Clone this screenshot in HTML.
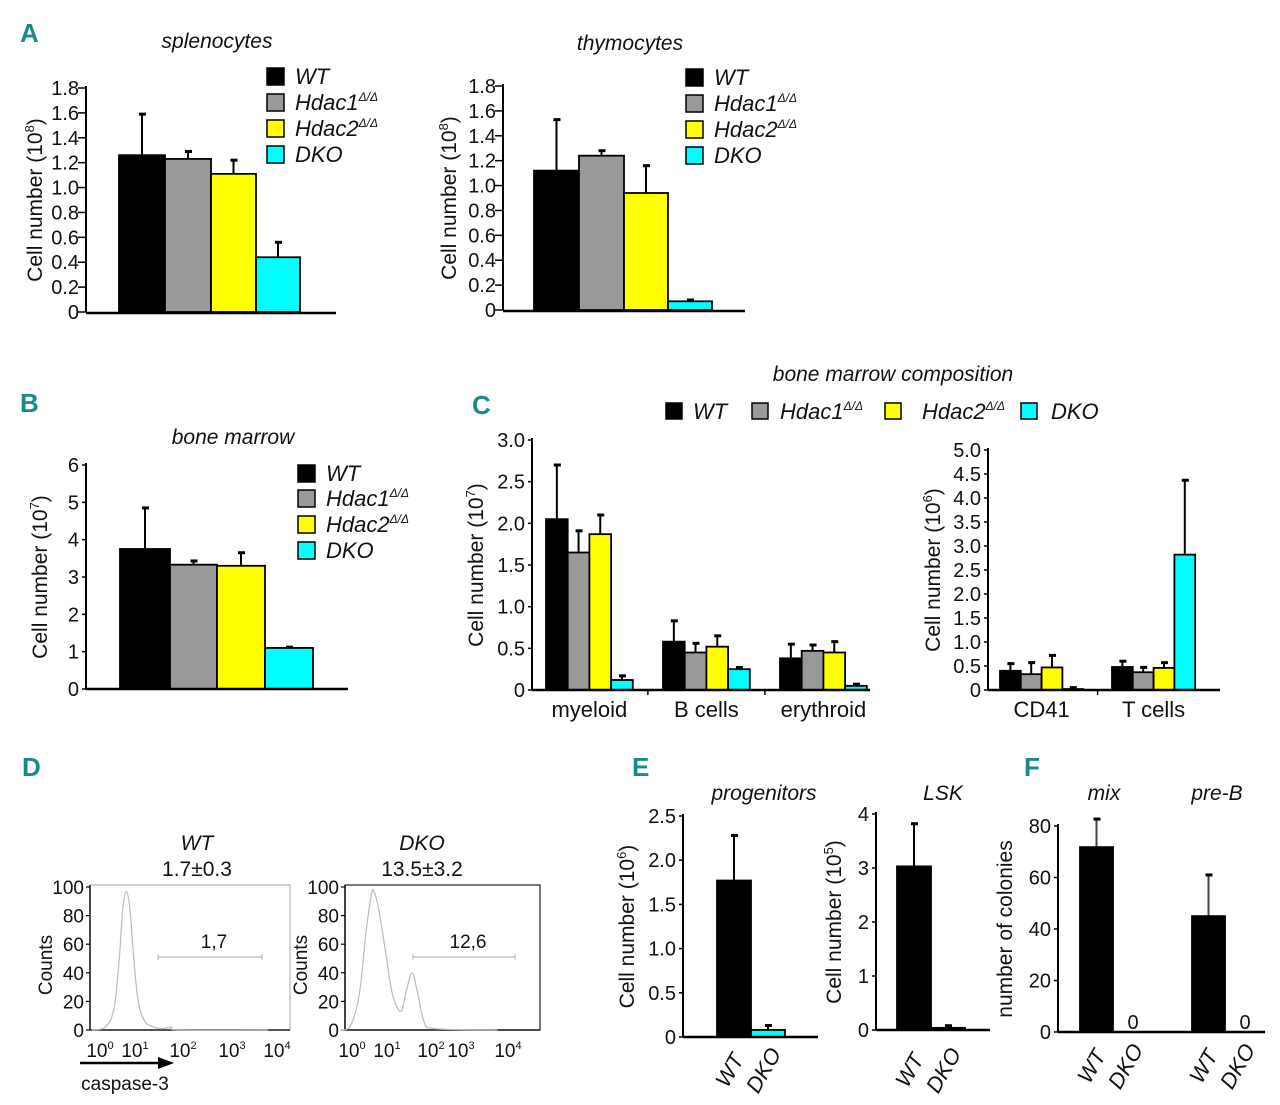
<!DOCTYPE html>
<html><head><meta charset="utf-8"><style>
html,body{margin:0;padding:0;background:#fff;}
svg{display:block;font-family:"Liberation Sans Narrow","Liberation Sans",sans-serif;}
</style></head><body>
<svg id="fig" width="1280" height="1105" viewBox="0 0 1280 1105" xmlns="http://www.w3.org/2000/svg"></svg>
<script>
// ---------- data ----------
const groups = ["WT","Hdac1","Hdac2","DKO"];
const colors = ["#000000","#999999","#ffff00","#00ffff"];
// Panel A
const spleenVals = [1.26,1.23,1.11,0.44];
const spleenErr  = [1.59,1.29,1.22,0.56];
const thymVals   = [1.12,1.24,0.94,0.07];
const thymErr    = [1.53,1.28,1.16,0.08];
const ticksA = [0,0.2,0.4,0.6,0.8,1.0,1.2,1.4,1.6,1.8];
// Panel B
const bmVals = [3.75,3.33,3.3,1.1];
const bmErr  = [4.85,3.43,3.65,1.12];
const ticksB = [0,1,2,3,4,5,6];
// Panel C left
const cLeftCats = ["myeloid","B cells","erythroid"];
const cLeftVals = [[2.05,1.65,1.87,0.12],[0.58,0.45,0.52,0.25],[0.38,0.47,0.45,0.05]];
const cLeftErr  = [[2.7,1.91,2.1,0.17],[0.83,0.56,0.65,0.27],[0.55,0.54,0.58,0.07]];
const ticksCL = [0,0.5,1.0,1.5,2.0,2.5,3.0];
// Panel C right
const cRightCats = ["CD41","T cells"];
const cRightVals = [[0.4,0.33,0.47,0.02],[0.48,0.37,0.46,2.82]];
const cRightErr  = [[0.55,0.57,0.72,0.05],[0.6,0.47,0.57,4.37]];
const ticksCR = [0,0.5,1.0,1.5,2.0,2.5,3.0,3.5,4.0,4.5,5.0];
// Panel D histograms (log10 fluorescence, counts %)
const wtLogs   = [0,0.3,0.5,0.62,0.7,0.78,0.86,0.95,1.05,1.2,1.4,1.6,1.8,2,4];
const wtCounts = [0,2,15,50,85,97,85,50,20,6,2,1,2,0,0];
const dkoLogs   = [0,0.3,0.55,0.75,0.9,0.97,1.1,1.3,1.5,1.74,1.9,2.06,2.2,2.4,2.7,4.5];
const dkoCounts = [0,3,25,70,95,97,85,55,25,13,28,40,28,6,1,0];
const ticksD = [0,20,40,60,80,100];
// Panel E
const progVals = [1.77,0.08];
const progErr  = [2.28,0.13];
const ticksE1 = ["0","0.5","1.0","1.5","2.0","2.5"];
const lskVals = [3.03,0.04];
const lskErr  = [3.82,0.08];
const ticksE2 = [0,1,2,3,4];
// Panel F
const mixVals = [71.8,0];
const mixErr  = [82.7,0];
const preBVals = [45,0];
const preBErr  = [61,0];
const ticksF = [0,20,40,60,80];

// ---------- helpers ----------
const NS="http://www.w3.org/2000/svg";
const svg=document.getElementById('fig');
function el(tag,attrs,parent,text){
  const e=document.createElementNS(NS,tag);
  for(const k in attrs)e.setAttribute(k,attrs[k]);
  if(text!==undefined)e.textContent=text;
  (parent||svg).appendChild(e);return e;
}
function scale(zeroPx,maxPx,maxVal){return v=>zeroPx-(zeroPx-maxPx)*v/maxVal;}
function txt(x,y,s,opts,parent){
  return el('text',Object.assign({x:x,y:y,'font-size':19,fill:'#111'},opts||{}),parent,s);
}
function label(x,y,s){
  const t=txt(x,y,s,{'font-size':26,'font-weight':'bold',fill:'#1a8a88'});
  
  
}
function title(x,y,s,name){
  const t=txt(x,y,s,{'font-size':21,'font-style':'italic','text-anchor':'middle'});
  
  
}
function yAxis(g,x,y,ticks,maxVal,yTop,yBot,labelStr,labelX,fmt,tickLen){
  const line=el('line',{x1:x,y1:yTop-2,x2:x,y2:yBot,stroke:'#000','stroke-width':2},g);
  
  
  ticks.forEach(v=>{
    const num=typeof v==='string'?parseFloat(v):v;
    const yy=y(num);
    el('line',{x1:x-(tickLen||4),y1:yy,x2:x,y2:yy,stroke:'#000','stroke-width':1.5},g);
    const t=txt(x-7,yy+7,fmt?fmt(v):String(v),{'text-anchor':'end','font-size':20},g);
    
    
  });
  const cy=(yTop+yBot)/2;
  const yl=el('text',{x:labelX,y:cy,'font-size':21,fill:'#111','text-anchor':'middle',transform:'rotate(-90 '+labelX+' '+cy+')'},g);
  
  
  yl.innerHTML=labelStr;
}
function xAxis(g,x1,x2,y){
  const l=el('line',{x1:x1,y1:y,x2:x2,y2:y,stroke:'#000','stroke-width':2.5},g);
  
  
}
function bar(g,x0,x1,y,val,err,color,name,bothWays){
  const top=y(val), base=y(0);
  if(err!==undefined && err>val){
    const ey=y(err);
    const cx=(x0+x1)/2;
    const eb=el('line',{x1:cx,y1:bothWays?y(val-(err-val)):top,x2:cx,y2:ey,stroke:bothWays?'#444':'#000','stroke-width':2},g);
    
    
    el('line',{x1:cx-3,y1:ey,x2:cx+4,y2:ey,stroke:'#000','stroke-width':3},g);
  }
  if(val>0){
    const r=el('rect',{x:x0,y:top,width:x1-x0,height:base-top,fill:color,stroke:'#000','stroke-width':1.8},g);
    
    
  }
}
const sup='<tspan font-size="12" dy="-9">Δ/Δ</tspan>';
function legendV(g,x,ys,size){
  const names=['WT','Hdac1','Hdac2','DKO'];
  names.forEach((n,i)=>{
    const r=el('rect',{x:x,y:ys[i],width:size,height:size,fill:colors[i],stroke:'#000','stroke-width':1.5},g);
    
    
    const t=el('text',{x:x+size+11,y:ys[i]+size-1,'font-size':22,'font-style':'italic',fill:'#111'},g);
    
    
    t.innerHTML=(n==='WT'||n==='DKO')?n:n+sup;
  });
}

// ---------- Panel A ----------
label(20,42,'A');
(function(){
  const g=el('g',{});
  const y=scale(312,88,1.8);
  title(217,48,'splenocytes','splenocytes-title');
  yAxis(g,86,y,ticksA,1.8,88,312,'Cell number (10<tspan font-size="13" dy="-8">8</tspan><tspan dy="8">)</tspan>',42,v=>v===0?'0':v.toFixed(1),8);
  const xs=[[119,165],[165,211],[211,256],[256,300]];
  groups.forEach((gname,i)=>bar(g,xs[i][0],xs[i][1],y,spleenVals[i],spleenErr[i],colors[i],'bar-spleen-'+gname.toLowerCase()));
  xAxis(g,86,336,313);
  legendV(g,267,[68,94,120,146],17);
})();
(function(){
  const g=el('g',{});
  const y=scale(310,86,1.8);
  title(630,50,'thymocytes','thymocytes-title');
  yAxis(g,503,y,ticksA,1.8,86,310,'Cell number (10<tspan font-size="13" dy="-8">8</tspan><tspan dy="8">)</tspan>',456,v=>v===0?'0':v.toFixed(1),8);
  const xs=[[534,579],[579,624],[624,668],[668,712]];
  groups.forEach((gname,i)=>bar(g,xs[i][0],xs[i][1],y,thymVals[i],thymErr[i],colors[i],'bar-thym-'+gname.toLowerCase()));
  xAxis(g,503,745,311);
  legendV(g,686,[69,95,121,147],17);
})();

// ---------- Panel B ----------
label(20,412,'B');
(function(){
  const g=el('g',{});
  const y=scale(689,465,6);
  title(233,444,'bone marrow','bone-marrow-title');
  yAxis(g,86,y,ticksB,6,465,689,'Cell number (10<tspan font-size="13" dy="-8">7</tspan><tspan dy="8">)</tspan>',47,null,4);
  const xs=[[120,170],[170,217],[217,265],[265,313]];
  groups.forEach((gname,i)=>bar(g,xs[i][0],xs[i][1],y,bmVals[i],bmErr[i],colors[i],'bar-bm-'+gname.toLowerCase()));
  xAxis(g,86,348,689);
  legendV(g,298,[465,490,516,542],17);
})();

// ---------- Panel C ----------
label(472,414,'C');
title(893,381,'bone marrow composition','bone-marrow-composition-title');
(function(){
  const g=el('g',{});
  const xs=[666,752,885,1021];
  const names=['WT','Hdac1','Hdac2','DKO'];
  const tx=[693,780,922,1051];
  names.forEach((n,i)=>{
    const r=el('rect',{x:xs[i],y:403,width:16,height:16,fill:colors[i],stroke:'#000','stroke-width':1.5},g);
    
    
    const t=el('text',{x:tx[i],y:419,'font-size':22,'font-style':'italic',fill:'#111'},g);
    
    
    t.innerHTML=(n==='WT'||n==='DKO')?n:n+sup;
  });
})();
function groupedChart(name,axisX,axisEnd,zero,topPx,maxVal,ticks,cats,vals,errs,starts,barW,ylabel,ylabelX){
  const g=el('g',{});
  const y=scale(zero,topPx,maxVal);
  yAxis(g,axisX,y,ticks,maxVal,topPx,zero,ylabel,ylabelX,v=>v===0?'0':v.toFixed(1),4);
  cats.forEach((c,ci)=>{
    groups.forEach((gn,i)=>{
      const x0=starts[ci]+i*barW;
      bar(g,x0,x0+barW,y,vals[ci][i],errs[ci][i],colors[i],'bar-'+c.replace(' ','-').toLowerCase()+'-'+gn.toLowerCase());
    });
    const t=txt(starts[ci]+2*barW,717,c,{'text-anchor':'middle','font-size':22},g);
    
    
  });
  xAxis(g,axisX,axisEnd,zero);
  for(let ci=1;ci<cats.length;ci++){
    const sx=(starts[ci-1]+4*barW+starts[ci])/2;
    el('line',{x1:sx,y1:zero,x2:sx,y2:zero+5,stroke:'#000','stroke-width':1.5},g);
  }
}
groupedChart('bm-composition-left',532,870,690,440,3.0,ticksCL,cLeftCats,cLeftVals,cLeftErr,[546,663,780],21.7,'Cell number (10<tspan font-size="13" dy="-8">7</tspan><tspan dy="8">)</tspan>',483);
groupedChart('bm-composition-right',988,1220,690,450,5.0,ticksCR,cRightCats,cRightVals,cRightErr,[1000,1112],20.8,'Cell number (10<tspan font-size="13" dy="-8">6</tspan><tspan dy="8">)</tspan>',940);

// ---------- Panel D ----------
label(22,776,'D');
function smoothPath(pts){
  let d='M'+pts[0][0].toFixed(1)+','+pts[0][1].toFixed(1);
  for(let i=0;i<pts.length-1;i++){
    const p0=pts[i-1]||pts[i],p1=pts[i],p2=pts[i+1],p3=pts[i+2]||p2;
    const c1=[p1[0]+(p2[0]-p0[0])/6,p1[1]+(p2[1]-p0[1])/6];
    const c2=[p2[0]-(p3[0]-p1[0])/6,p2[1]-(p3[1]-p1[1])/6];
    d+=' C'+c1[0].toFixed(1)+','+c1[1].toFixed(1)+' '+c2[0].toFixed(1)+','+c2[1].toFixed(1)+' '+p2[0].toFixed(1)+','+p2[1].toFixed(1);
  }
  return d;
}
function histo(name,bx0,bx1,logX0,pxPerDec,logs,counts,xlabels,labelXs,gate,gateLabel,t1,t2,tx,darkBox){
  const g=el('g',{});
  const y=scale(1030,887,100);
  el('rect',{x:bx0,y:885,width:bx1-bx0,height:145,fill:'none',stroke:darkBox?'#333':'#bbb','stroke-width':1.3},g);
  el('line',{x1:bx0,y1:885,x2:bx0,y2:1030,stroke:'#222','stroke-width':1.6},g);
  el('line',{x1:bx0,y1:1030,x2:bx1,y2:1030,stroke:'#222','stroke-width':1.6},g);
  ticksD.forEach(v=>{
    el('line',{x1:bx0-4,y1:y(v),x2:bx0,y2:y(v),stroke:'#000','stroke-width':1.2},g);
    const t=txt(bx0-6,y(v)+7,String(v),{'text-anchor':'end','font-size':19},g);
    
    
  });
  xlabels.forEach((s,i)=>{
    const t=el('text',{x:labelXs[i],y:1057,'font-size':19,'text-anchor':'middle',fill:'#111'},g);
    
    
    t.innerHTML='10<tspan font-size="11" dy="-8">'+s+'</tspan>';
  });
  const yl=el('text',{x:bx0-38,y:965,'font-size':19,'text-anchor':'middle',fill:'#111',transform:'rotate(-90 '+(bx0-38)+' 965)'},g,'Counts');
  
  
  const pts=logs.map((l,i)=>[logX0+l*pxPerDec,y(counts[i])]);
  const pl=el('path',{d:smoothPath(pts),fill:'none',stroke:'#bbb','stroke-width':1.2},g);
  
  
  const gl=el('line',{x1:gate[0],y1:957,x2:gate[1],y2:957,stroke:'#bbb','stroke-width':1.2},g);
  
  
  el('line',{x1:gate[0],y1:954,x2:gate[0],y2:960,stroke:'#bbb'},g);
  el('line',{x1:gate[1],y1:954,x2:gate[1],y2:960,stroke:'#bbb'},g);
  const gt=txt((gate[0]+gate[1])/2+4,948,gateLabel,{'text-anchor':'middle','font-size':19},g);
  
  
  const a=txt(tx,850,t1,{'text-anchor':'middle','font-size':21,'font-style':'italic'},g);
  
  
  const b=txt(tx,876,t2,{'text-anchor':'middle','font-size':21},g);
  
  
}
histo('wt-caspase-histogram',90,290,92,44,wtLogs,wtCounts,['0','1','2','3','4'],[100,135,183,232,277],[158,262],'1,7','WT','1.7±0.3',197,false);
histo('dko-caspase-histogram',345,540,340,35,dkoLogs,dkoCounts,['0','1','2','3','4'],[352,387,431,461,508],[413,515],'12,6','DKO','13.5±3.2',422,true);
(function(){
  const ar=el('line',{x1:80,y1:1063,x2:160,y2:1063,stroke:'#000','stroke-width':2.5});
  
  
  el('polygon',{points:'158,1057 174,1063 158,1069',fill:'#000'});
  const t=txt(125,1090,'caspase-3',{'text-anchor':'middle','font-size':19});
  
  
})();

// ---------- Panel E ----------
label(632,776,'E');
function simpleChart(name,axisX,axisEnd,zero,topPx,maxVal,ticks,vals,errs,starts,w,cols,ylabel,ylabelX,cats){
  const g=el('g',{});
  const y=scale(zero,topPx,maxVal);
  yAxis(g,axisX,y,ticks,maxVal,topPx,zero,ylabel,ylabelX,null,4);
  vals.forEach((v,i)=>{
    bar(g,starts[i],starts[i]+w,y,v,errs[i],cols[i],'bar-'+name+'-'+cats[i].toLowerCase());
    const cx=starts[i]+w/2+2;
    const t=el('text',{x:cx,y:1074,'font-size':22,'font-style':'italic','text-anchor':'middle',fill:'#111',transform:'rotate(-60 '+cx+' 1074)'},g,cats[i]);
    
    
  });
  xAxis(g,axisX,axisEnd,zero);
}
title(764,800,'progenitors','progenitors-title');
simpleChart('progenitors',683,818,1037,816,2.5,ticksE1,progVals,progErr,[717,751],34,['#000','#00ffff'],'Cell number (10<tspan font-size="13" dy="-8">6</tspan><tspan dy="8">)</tspan>',634,['WT','DKO']);
title(943,800,'LSK','lsk-title');
simpleChart('lsk',876,990,1030,814,4,ticksE2,lskVals,lskErr,[897,931],34,['#000','#000'],'Cell number (10<tspan font-size="13" dy="-8">5</tspan><tspan dy="8">)</tspan>',841,['WT','DKO']);

// ---------- Panel F ----------
label(1024,776,'F');
title(1104,800,'mix','mix-title');
title(1217,800,'pre-B','pre-b-title');
(function(){
  const g=el('g',{});
  const zero=1032, y=scale(zero,826,80);
  yAxis(g,1058,y,ticksF,80,826,zero,'number of colonies',1012,null,4);
  const sets=[[mixVals,mixErr,1080,'mix'],[preBVals,preBErr,1192,'preb']];
  sets.forEach(s=>{
    ['WT','DKO'].forEach((c,i)=>{
      const x0=s[2]+i*34;
      bar(g,x0,x0+33,y,s[0][i],s[1][i],'#000','bar-'+s[3]+'-'+c.toLowerCase(),true);
      const cx=x0+18;
      const t=el('text',{x:cx,y:1070,'font-size':22,'font-style':'italic','text-anchor':'middle',fill:'#111',transform:'rotate(-60 '+cx+' 1070)'},g,c);
      
      
      if(s[0][i]===0){
        const z=txt(x0+19,zero-3,'0',{'text-anchor':'middle','font-size':20},g);
        
        
      }
    });
  });
  xAxis(g,1058,1265,zero);
})();
</script>
</body></html>
